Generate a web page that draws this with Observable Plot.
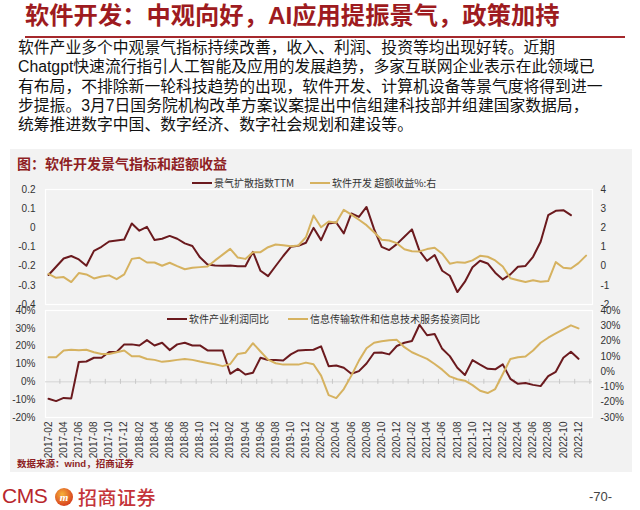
<!DOCTYPE html>
<html>
<head>
<meta charset="utf-8">
<script src="https://cdn.jsdelivr.net/npm/d3@7"></script>
<script src="https://cdn.jsdelivr.net/npm/@observablehq/plot@0.6"></script>
<style>
  html, body { margin: 0; padding: 0; background: #fff; }
  #page { position: relative; width: 640px; height: 510px; overflow: hidden;
          font-family: "Liberation Sans", "Noto Sans CJK SC", sans-serif; }
  .abs { position: absolute; }
  #title { left: 25px; top: 0px; font-size: 24.3px; font-weight: 700; color: #9e1b20; white-space: nowrap; line-height: 32px; }
  #rule { left: 25px; top: 36px; width: 600px; height: 2px; background: #a5282c; }
  #para { left: 18px; top: 38px; font-size: 15.8px; line-height: 19.3px; color: #111; white-space: nowrap; }
  #panel { left: 10px; top: 149px; width: 622px; height: 323px; background: #f2f2f2; }
  #ptitle { left: 17px; top: 154px; font-size: 14px; font-weight: 700; color: #8e1f24; white-space: nowrap; line-height: 20px; }
  .leg { position: absolute; font-size: 10px; color: #333; white-space: nowrap; line-height: 12px; font-family: "Noto Sans CJK SC", "Liberation Sans", sans-serif; }
  .leg i { display: inline-block; width: 20px; height: 0; border-top: 2px solid; vertical-align: middle; margin-right: 2px; position: relative; top: -1px; }
  #src { left: 17px; top: 456px; font-size: 9.5px; font-weight: 700; color: #8e1f24; white-space: nowrap; }
  #cms { left: 2px; top: 484px; font-size: 21px; color: #b8262c; font-family: "Liberation Sans", sans-serif; letter-spacing: -0.5px; }
  #logo { left: 55px; top: 488px; width: 18px; height: 18px; border-radius: 50%;
          background: radial-gradient(circle at 40% 35%, #f6b23a, #d9461f 70%, #b52a1c); color: #fff;
          font: italic 700 11px "Liberation Serif", serif; text-align: center; line-height: 18px; }
  #cmsname { left: 78px; top: 483px; font-size: 19px; color: #c4343a; font-family: "Noto Sans CJK SC", sans-serif; font-weight: 500; letter-spacing: 0.5px; }
  #pnum { left: 589px; top: 489px; font-size: 13px; color: #444; }
  svg { overflow: visible; }
</style>
</head>
<body>
<div id="page">
  <div id="title" class="abs">软件开发：中观向好，AI应用提振景气，政策加持</div>
  <div id="rule" class="abs"></div>
  <div id="para" class="abs">软件产业多个中观景气指标持续改善，收入、利润、投资等均出现好转。近期<br>Chatgpt快速流行指引人工智能及应用的发展趋势，多家互联网企业表示在此领域已<br>有布局，不排除新一轮科技趋势的出现，软件开发、计算机设备等景气度将得到进一<br>步提振。3月7日国务院机构改革方案议案提出中信组建科技部并组建国家数据局，<br>统筹推进数字中国、数字经济、数字社会规划和建设等。</div>
  <div id="panel" class="abs"></div>
  <div id="ptitle" class="abs">图：软件开发景气指标和超额收益</div>
  <div id="topChart" class="abs" style="left:0;top:180px;"></div>
  <div id="botChart" class="abs" style="left:0;top:305px;"></div>
  <div class="leg" style="left:192px;top:177px;"><i style="border-color:#6b1a1e"></i>景气扩散指数TTM</div>
  <div class="leg" style="left:310px;top:177px;"><i style="border-color:#d6b260"></i>软件开发 超额收益%:右</div>
  <div class="leg" style="left:167px;top:313px;"><i style="border-color:#6b1a1e"></i>软件产业利润同比</div>
  <div class="leg" style="left:288px;top:313px;"><i style="border-color:#d6b260"></i>信息传输软件和信息技术服务投资同比</div>
  <div id="src" class="abs">数据来源：wind，招商证券</div>
  <div id="cms" class="abs">CMS</div>
  <div id="logo" class="abs">m</div>
  <div id="cmsname" class="abs">招商证券</div>
  <div id="pnum" class="abs">-70-</div>
</div>
<script>
// ---------- data ----------
const monthLabels = ["2017-02","2017-04","2017-06","2017-08","2017-10","2017-12",
  "2018-02","2018-04","2018-06","2018-08","2018-10","2018-12",
  "2019-02","2019-04","2019-06","2019-08","2019-10","2019-12",
  "2020-02","2020-04","2020-06","2020-08","2020-10","2020-12",
  "2021-02","2021-04","2021-06","2021-08","2021-10","2021-12",
  "2022-02","2022-04","2022-06","2022-08","2022-10","2022-12"];

// 景气扩散指数TTM (left axis), monthly from 2017-02
const diffusionTTM = [-0.246,-0.203,-0.160,-0.147,-0.165,-0.198,-0.120,-0.099,-0.071,-0.066,
  -0.061,0.023,-0.015,0.005,-0.064,-0.057,-0.042,-0.057,-0.081,-0.095,
  -0.154,-0.191,-0.196,-0.198,-0.196,-0.200,-0.200,-0.125,-0.224,-0.252,
  -0.199,-0.147,-0.099,-0.094,-0.078,0.000,-0.064,0.023,0.028,-0.029,
  0.075,0.057,0.109,-0.007,-0.099,-0.116,-0.085,-0.047,-0.008,-0.120,
  -0.172,-0.142,-0.224,-0.250,-0.335,-0.281,-0.206,-0.172,-0.186,-0.234,
  -0.269,-0.243,-0.203,-0.199,-0.151,-0.073,0.066,0.089,0.092,0.066];

// 软件开发 超额收益% (right axis)
const excessReturn = [-0.40,-0.61,-0.57,-0.83,-0.36,-0.43,-0.64,-0.54,-0.48,-0.68,
  -0.43,0.38,0.44,0.19,0.19,0.02,0.18,0.00,-0.16,-0.08,
  -0.05,-0.02,0.30,0.60,0.90,0.45,0.38,0.72,0.73,0.99,
  1.13,1.09,1.04,1.08,1.51,2.64,2.03,2.33,2.26,2.94,
  2.69,2.42,2.14,1.77,1.38,1.34,1.20,0.88,0.78,0.77,
  0.89,0.96,0.65,0.13,0.21,0.18,0.30,0.54,0.49,0.30,
  -0.02,-0.63,-0.73,-0.83,-0.74,-0.81,-0.78,0.21,-0.08,-0.12,
  0.16,0.55];

// 软件产业利润同比 (left axis, %)
const profitYoY = [-9.5,-10.8,-9.0,-9.3,11.1,11.4,13.5,13.5,16.7,16.7,
  21.0,21.0,20.4,23.4,20.4,21.9,17.8,21.0,21.9,20.4,
  20.4,17.6,17.6,17.6,4.5,7.3,4.1,5.1,13.5,12.2,
  12.2,12.0,15.4,17.6,17.8,18.0,19.9,8.8,9.2,7.9,
  4.5,6.0,10.3,16.3,16.5,15.4,20.1,21.9,22.9,32.0,
  26.1,26.8,18.5,14.4,7.9,3.8,12.2,9.6,7.3,7.0,
  9.8,1.7,-1.1,-0.7,-1.7,-2.4,3.2,5.6,13.5,16.9,
  12.9];

// 信息传输软件和信息技术服务投资同比 (right axis, %)
const investYoY = [9.4,9.4,13.8,14.3,14.0,14.3,12.7,11.6,11.6,12.7,
  13.8,10.1,10.1,8.3,7.7,6.4,7.0,7.7,8.3,7.7,
  6.6,5.7,4.8,3.6,5.0,11.6,12.3,18.6,13.2,7.9,
  5.5,4.6,4.6,4.6,5.9,4.8,-2.6,-15.4,-17.3,-11.4,
  -2.6,7.2,15.3,18.9,19.9,20.6,20.8,16.0,12.7,10.5,
  8.3,5.0,1.3,-3.1,-5.0,-5.9,-8.8,-12.5,-14.0,-11.4,
  -1.5,8.3,9.4,9.9,13.8,18.9,22.2,25.0,27.6,30.3,
  28.3];

const topLeftTicks = [0.2, 0.1, 0, -0.1, -0.2, -0.3, -0.4];
const topRightTicks = [4, 3, 2, 1, 0, -1, -2];
const botLeftTicks = [40, 30, 20, 10, 0, -10, -20];
const botRightTicks = [40, 30, 20, 10, 0, -10, -20, -30];

(function () {
  const BROWN = "#6b1a1e";
  const GOLD = "#d6b260";
  const xDomain = [-0.4, 71.85];
  const axisStyle = {fontFamily: "'Liberation Sans', Arial, sans-serif", fontSize: "10px", color: "#333", background: "transparent", overflow: "visible"};

  const topR2L = r => (r - 2) / 10;
  const topL2R = l => l * 10 + 2;
  const botR2L = r => -20 + (r + 30) * 60 / 70;
  const botL2R = l => (l + 20) * 70 / 60 - 30;
  const fmtNum = d => String(+(+d).toFixed(1));
  const rows = arr => arr.map((v, i) => ({i, v}));

  const topPlot = Plot.plot({
    width: 640, height: 130,
    marginLeft: 45, marginRight: 48, marginTop: 9, marginBottom: 6,
    x: {domain: xDomain, axis: null},
    y: {domain: [-0.4, 0.2]},
    style: axisStyle,
    marks: [
      Plot.frame({stroke: "#ffffff", strokeWidth: 1.2}),
      Plot.axisY(topLeftTicks, {anchor: "left", label: null, tickSize: 0, tickPadding: 10, tickFormat: fmtNum, fill: "#333"}),
      Plot.axisY(topRightTicks.map(topR2L), {anchor: "right", label: null, tickSize: 0, tickPadding: 8, tickFormat: d => fmtNum(Math.round(topL2R(d))), fill: "#333"}),
      Plot.line(rows(diffusionTTM), {x: "i", y: "v", stroke: BROWN, strokeWidth: 2}),
      Plot.line(rows(excessReturn), {x: "i", y: d => topR2L(d.v), stroke: GOLD, strokeWidth: 2})
    ]
  });
  document.getElementById("topChart").appendChild(topPlot);

  const tickIdx = monthLabels.map((_, k) => 2 * k);
  const zeroTicks = monthLabels.map((_, k) => 2 * k + 1.5).filter(d => d < xDomain[1]);

  const botPlot = Plot.plot({
    width: 640, height: 157,
    marginLeft: 45, marginRight: 48, marginTop: 5, marginBottom: 45,
    x: {domain: xDomain},
    y: {domain: [-20, 40]},
    style: axisStyle,
    marks: [
      Plot.frame({stroke: "#ffffff", strokeWidth: 1.2}),
      Plot.ruleY([0], {stroke: "#d4d4d4", strokeWidth: 1}),
      Plot.ruleX(zeroTicks, {x: d => d, y1: 0, y2: 0, insetTop: -2.5, insetBottom: -2.5, stroke: "#c8c8c8"}),
      Plot.axisY(botLeftTicks, {anchor: "left", label: null, tickSize: 0, tickPadding: 10, tickFormat: d => d + "%", fill: "#333"}),
      Plot.axisY(botRightTicks.map(botR2L), {anchor: "right", label: null, tickSize: 0, tickPadding: 8, tickFormat: d => Math.round(botL2R(d)) + "%", fill: "#333"}),
      Plot.axisX(tickIdx, {anchor: "bottom", label: null, tickSize: 0, tickPadding: 4, tickRotate: -90, tickFormat: i => monthLabels[i / 2], fill: "#333"}),
      Plot.line(rows(profitYoY), {x: "i", y: "v", stroke: BROWN, strokeWidth: 2}),
      Plot.line(rows(investYoY), {x: "i", y: d => botR2L(d.v), stroke: GOLD, strokeWidth: 2})
    ]
  });
  document.getElementById("botChart").appendChild(botPlot);
})();
</script>
</body>
</html>
